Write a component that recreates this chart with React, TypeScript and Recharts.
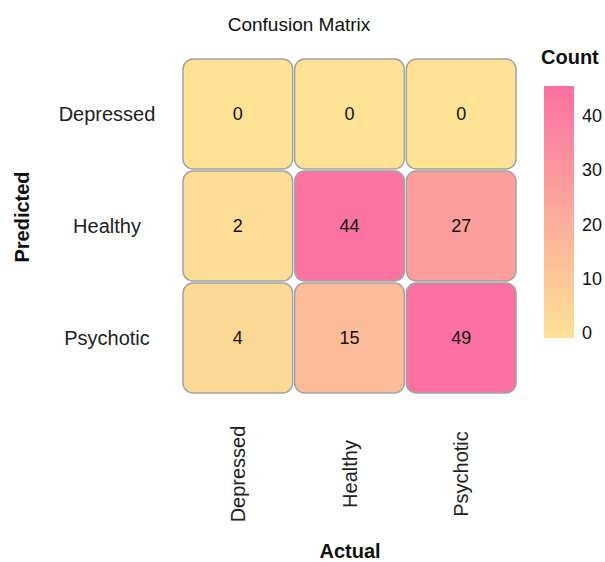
import React from "react";
import { Bar, BarChart, Scatter, ScatterChart, XAxis, YAxis } from "recharts";

const actualLabels = ["Depressed", "Healthy", "Psychotic"];
const predictedLabels = ["Depressed", "Healthy", "Psychotic"];
// rows = predicted, columns = actual
const counts = [
  [0, 0, 0],
  [2, 44, 27],
  [4, 15, 49],
];
const legendTicks = [0, 10, 20, 30, 40];
const legendDomain: [number, number] = [-1, 45.5];

const FONT = '"Liberation Sans", Arial, Helvetica, sans-serif';
const LOW = [253, 226, 148];
const HIGH = [251, 112, 162];
const COLOR_MAX = 45.5;

function colorFor(v: number) {
  const t = Math.max(0, Math.min(1, v / COLOR_MAX));
  const c = LOW.map((l, i) => Math.round(l + (HIGH[i] - l) * t));
  return `rgb(${c[0]},${c[1]},${c[2]})`;
}

const cells = counts.flatMap((row, r) =>
  row.map((value, c) => ({ x: c, y: r, value }))
);
const legendBar = [{ name: "Count", lo: legendDomain[0], hi: legendDomain[1] }];

const PLOT_W = 335;
const PLOT_H = 336;
const CELL_W = PLOT_W / 3 - 2;
const CELL_H = PLOT_H / 3 - 2;

function CellShape(props: any) {
  const { cx, cy, payload } = props;
  return (
    <g>
      <rect
        x={cx - CELL_W / 2}
        y={cy - CELL_H / 2}
        width={CELL_W}
        height={CELL_H}
        rx={10}
        ry={10}
        fill={colorFor(payload.value)}
        stroke="#a3a3a3"
        strokeWidth={1.5}
      />
      <text
        x={cx}
        y={cy}
        textAnchor="middle"
        dominantBaseline="central"
        fontSize={18}
        fontFamily={FONT}
        fill="#111"
      >
        {payload.value}
      </text>
    </g>
  );
}

function YTick(props: any) {
  const { x, y, payload } = props;
  return (
    <text
      x={x - 67}
      y={y}
      textAnchor="middle"
      dominantBaseline="central"
      fontSize={20}
      fontFamily={FONT}
      fill="#222"
    >
      {predictedLabels[payload.value]}
    </text>
  );
}

function XTick(props: any) {
  const { x, y, payload } = props;
  const ty = y + 72;
  return (
    <text
      x={x}
      y={ty}
      transform={`rotate(-90, ${x}, ${ty})`}
      textAnchor="middle"
      dominantBaseline="central"
      fontSize={20}
      fontFamily={FONT}
      fill="#222"
    >
      {actualLabels[payload.value]}
    </text>
  );
}

const textBase: React.CSSProperties = {
  position: "absolute",
  fontFamily: FONT,
  color: "#111",
  whiteSpace: "nowrap",
  lineHeight: 1,
};

export default function App() {
  const lowColor = colorFor(0);
  const highColor = colorFor(COLOR_MAX);
  return (
    <div
      style={{
        position: "absolute",
        left: 0,
        top: 0,
        width: 605,
        height: 562,
        background: "#fff",
        overflow: "hidden",
      }}
    >
      <ScatterChart
        width={605}
        height={562}
        margin={{ top: 58, right: 88, left: 32, bottom: 68 }}
      >
        <XAxis
          type="number"
          dataKey="x"
          domain={[-0.5, 2.5]}
          ticks={[0, 1, 2]}
          height={100}
          axisLine={false}
          tickLine={false}
          tick={<XTick />}
          interval={0}
        />
        <YAxis
          type="number"
          dataKey="y"
          domain={[-0.5, 2.5]}
          ticks={[0, 1, 2]}
          reversed
          width={150}
          axisLine={false}
          tickLine={false}
          tick={<YTick />}
          interval={0}
        />
        <Scatter data={cells} shape={<CellShape />} isAnimationActive={false} />
      </ScatterChart>

      <div style={{ position: "absolute", left: 530, top: 80 }}>
        <BarChart
          width={75}
          height={265}
          data={legendBar}
          margin={{ top: 6, right: 0, left: 14, bottom: 7 }}
          barCategoryGap={0}
        >
          <defs>
            <linearGradient id="countGrad" x1="0" y1="1" x2="0" y2="0">
              <stop offset="0%" stopColor={lowColor} />
              <stop offset="100%" stopColor={highColor} />
            </linearGradient>
          </defs>
          <XAxis dataKey="name" hide />
          <YAxis
            type="number"
            orientation="right"
            domain={legendDomain}
            ticks={legendTicks}
            width={31}
            axisLine={false}
            tickLine={false}
            tick={{ fontSize: 18, fill: "#111", fontFamily: FONT, textAnchor: "start" }}
            interval={0}
            allowDataOverflow
          />
          <Bar
            dataKey={(d: any) => [d.lo, d.hi]}
            fill="url(#countGrad)"
            isAnimationActive={false}
          />
        </BarChart>
      </div>

      <div
        style={{
          ...textBase,
          left: 299,
          top: 24,
          fontSize: 19,
          transform: "translate(-50%, -50%)",
        }}
      >
        Confusion Matrix
      </div>
      <div
        style={{
          ...textBase,
          left: 541,
          top: 57,
          fontSize: 20,
          fontWeight: 700,
          transform: "translateY(-50%)",
        }}
      >
        Count
      </div>
      <div
        style={{
          ...textBase,
          left: 350,
          top: 551,
          fontSize: 20,
          fontWeight: 700,
          transform: "translate(-50%, -50%)",
        }}
      >
        Actual
      </div>
      <div
        style={{
          ...textBase,
          left: 22,
          top: 217,
          fontSize: 20,
          fontWeight: 700,
          transform: "translate(-50%, -50%) rotate(-90deg)",
        }}
      >
        Predicted
      </div>
    </div>
  );
}
